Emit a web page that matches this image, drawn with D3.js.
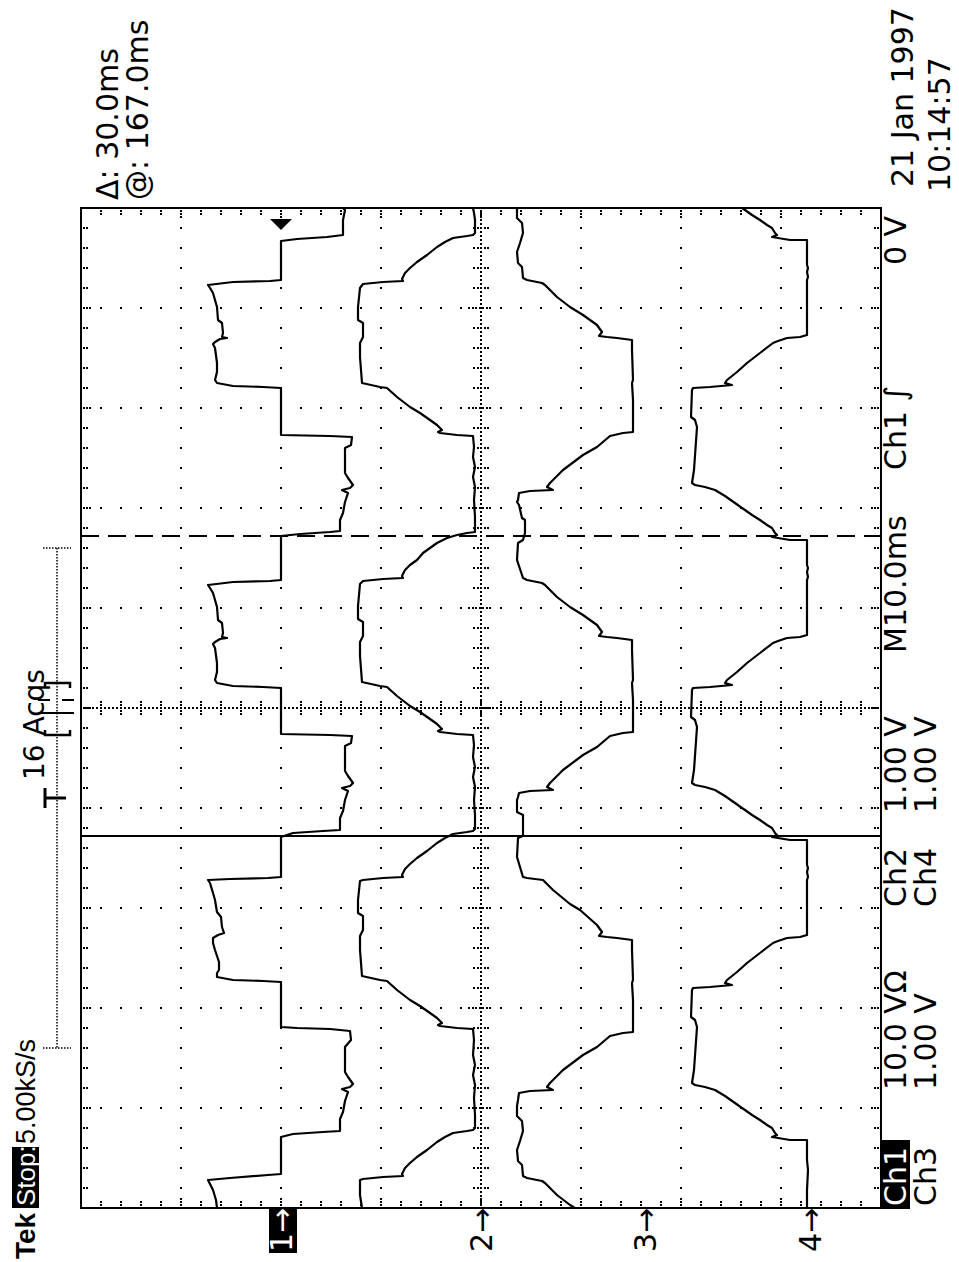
<!DOCTYPE html>
<html><head><meta charset="utf-8">
<script src="https://cdn.jsdelivr.net/npm/d3@7"></script>
<style>
body{margin:0;background:#fff}
svg{display:block}
text{font-family:'DejaVu Sans',sans-serif;font-size:30px;fill:#000}
</style>
</head><body>
<svg id="c" width="959" height="1262"></svg>
<script>
// ---- data: [time ms, volts] ----
const ch1 = [
[0.0,6.4],[0.8,6.5],[1.8,6.8],[2.8,7.3],[3.0,5.1],[3.3,1.3],[3.4,0],
[7.1,0],[7.4,-1.2],[7.6,-4.2],[7.7,-5.9],[8.9,-5.9],[9.6,-6.2],[10.7,-6.4],[11.6,-6.7],[11.9,-6.1],[12.1,-6.9],[12.4,-7.2],[13.1,-6.7],[13.6,-6.4],[16.1,-6.4],[16.8,-7.0],[17.7,-6.9],[17.9,-4.9],[18.0,-1.6],[18.1,0],
[22.6,0],[22.7,1.8],[22.8,4.8],[23.1,6.4],[23.5,6.4],[23.8,6.2],[24.6,6.2],[25.8,6.6],[26.5,6.8],[27.0,6.8],[27.3,6.3],[27.5,5.7],[28.1,5.9],[29.1,6.0],[29.6,6.4],[30.8,6.6],[31.5,6.8],[32.5,7.1],[32.8,7.3],[32.9,5.1],[33.0,1.3],[33.1,0],
[37.1,0],[37.5,-1.2],[37.7,-4.2],[37.8,-5.9],[39.0,-5.9],[39.7,-6.2],[40.8,-6.4],[41.7,-6.7],[42.0,-6.1],[42.2,-6.9],[42.5,-7.2],[43.2,-6.7],[43.7,-6.4],[46.2,-6.4],[46.5,-7.0],[47.2,-7.1],[47.3,-4.9],[47.4,0],
[52.0,0],[52.1,1.8],[52.2,4.8],[52.5,6.4],[52.8,6.6],[53.6,6.4],[54.5,6.4],[56.0,6.6],[56.4,6.8],[56.6,6.6],[56.9,6.1],[57.0,5.4],[57.1,5.9],[57.5,5.8],[58.5,5.9],[58.8,6.3],[60.1,6.4],[60.8,6.6],[61.5,6.8],[62.0,7.1],[62.3,7.3],[62.6,4.8],[62.7,1.1],[62.8,0],
[67.2,0],[67.4,-1.9],[67.6,-4.9],[67.7,-5.9],[68.8,-5.9],[69.5,-6.2],[70.6,-6.4],[71.5,-6.7],[71.8,-6.1],[72.0,-6.9],[72.3,-7.2],[73.0,-6.7],[73.5,-6.4],[76.0,-6.4],[76.3,-7.0],[77.1,-7.1],[77.2,-4.9],[77.3,0],
[82.0,0],[82.1,1.8],[82.2,4.8],[82.5,6.4],[82.8,6.6],[83.6,6.4],[84.5,6.4],[86.0,6.6],[86.4,6.8],[86.6,6.6],[86.9,6.1],[87.0,5.4],[87.1,5.9],[87.5,5.8],[88.5,5.9],[88.8,6.3],[90.1,6.4],[90.8,6.6],[91.5,6.8],[92.0,7.1],[92.3,7.3],[92.6,4.8],[92.7,1.1],[92.8,0],
[96.7,0],[96.9,-1.6],[97.1,-4.6],[97.3,-6.2],[98.8,-6.2],[99.8,-6.4],[100.0,-6.2]
];
const ch2 = [
[0.0,1.19],[1.3,1.21],[2.8,1.21],[2.9,1.18],[3.1,0.98],[3.2,0.78],[3.4,0.79],[4.0,0.76],[4.5,0.71],[5.1,0.64],[5.8,0.54],[6.6,0.44],[7.1,0.36],[7.5,0.28],[7.7,0.14],[7.8,0.08],[8.0,0.06],
[9.3,0.06],[11.0,0.07],[12.3,0.06],[13.3,0.08],[14.3,0.06],[15.3,0.08],[16.8,0.07],[17.9,0.08],
[18.0,0.24],[18.2,0.41],[18.3,0.43],[18.5,0.39],[19.0,0.44],[19.5,0.51],[20.2,0.61],[20.8,0.71],[21.8,0.84],[22.7,0.94],[22.8,1.01],[23.2,1.19],
[25.8,1.21],[27.2,1.21],[27.8,1.18],[29.2,1.18],[29.5,1.23],[30.8,1.23],[32.7,1.21],[32.8,1.18],
[33.0,0.98],[33.1,0.78],[33.3,0.79],[33.9,0.76],[34.4,0.71],[35.0,0.64],[35.7,0.54],[36.5,0.44],[37.0,0.36],[37.4,0.28],[37.6,0.14],[37.7,0.08],[37.9,0.06],
[39.3,0.06],[40.8,0.07],[42.1,0.06],[43.1,0.08],[44.1,0.06],[45.1,0.08],[46.3,0.07],[47.3,0.08],
[47.4,0.24],[47.6,0.41],[47.7,0.43],[47.9,0.39],[48.4,0.44],[48.9,0.51],[49.6,0.61],[50.2,0.71],[51.2,0.84],[52.1,0.94],[52.2,1.01],[52.6,1.19],
[55.2,1.21],[56.6,1.21],[57.2,1.18],[58.6,1.18],[58.9,1.23],[60.2,1.23],[62.4,1.21],[62.7,1.18],
[62.9,0.98],[63.0,0.78],[63.2,0.79],[63.8,0.76],[64.3,0.71],[64.8,0.64],[65.5,0.58],[66.5,0.44],[67.0,0.34],[67.3,0.24],[67.5,0.14],[67.6,0.06],
[69.1,0.06],[70.8,0.07],[72.1,0.06],[73.1,0.08],[74.1,0.06],[75.1,0.08],[76.1,0.07],[77.2,0.08],
[77.3,0.24],[77.5,0.41],[77.6,0.43],[77.8,0.39],[78.3,0.44],[78.8,0.51],[79.5,0.61],[80.1,0.71],[81.1,0.84],[82.0,0.94],[82.1,1.01],[82.5,1.19],
[85.1,1.21],[86.5,1.21],[87.1,1.18],[88.5,1.18],[88.8,1.23],[90.1,1.23],[92.0,1.21],[92.4,1.18],
[92.6,0.98],[92.7,0.78],[92.9,0.79],[93.5,0.76],[94.0,0.71],[94.6,0.64],[95.3,0.54],[96.1,0.44],[96.6,0.36],[97.0,0.28],[97.2,0.14],[97.3,0.08],[97.5,0.06],
[98.8,0.06],[99.5,0.07],[100.0,0.08]
];
const ch3 = [
[-1.5,0.48],[-0.5,0.62],[0.3,0.75],[1.3,0.88],[2.5,1.00],[2.7,1.03],[3.0,1.18],[3.2,1.22],
[4.3,1.23],[4.7,1.27],[5.8,1.28],[6.7,1.25],[7.7,1.22],[8.7,1.23],[9.2,1.28],[10.2,1.28],[10.8,1.27],[11.5,1.26],
[11.7,1.15],[11.8,0.92],[12.1,0.98],[12.5,0.95],[13.8,0.82],[15.3,0.62],[16.1,0.48],[17.2,0.35],[17.5,0.22],[17.6,0.12],
[20.8,0.12],[22.5,0.13],[22.8,0.12],[25.8,0.13],[26.8,0.13],
[27.0,0.28],[27.1,0.38],[27.2,0.46],[27.6,0.43],[28.3,0.48],[29.8,0.65],[30.4,0.75],[31.8,0.92],[32.8,1.02],[33.0,1.18],[33.1,1.22],
[35.1,1.28],[37.0,1.27],[37.2,1.22],[39.3,1.22],[39.6,1.28],[40.8,1.28],[41.1,1.27],[41.5,1.26],
[41.7,1.15],[41.8,0.92],[42.1,0.98],[42.5,0.95],[43.8,0.82],[45.3,0.62],[46.1,0.48],[47.2,0.35],[47.5,0.22],[47.6,0.12],
[50.8,0.12],[52.5,0.13],[52.8,0.12],[55.8,0.13],[56.8,0.13],
[57.0,0.28],[57.1,0.38],[57.2,0.46],[57.6,0.43],[58.3,0.48],[59.3,0.62],[60.1,0.75],[61.1,0.88],[62.3,1.00],[62.5,1.03],[62.8,1.18],[63.0,1.22],
[64.8,1.28],[66.5,1.27],[66.8,1.22],[67.5,1.20],[68.8,1.20],[69.0,1.23],[70.3,1.26],[70.6,1.28],[70.8,1.27],[71.5,1.26],
[71.7,1.15],[71.8,0.92],[72.1,0.98],[72.5,0.95],[73.8,0.82],[75.3,0.62],[76.1,0.48],[77.2,0.35],[77.5,0.22],[77.6,0.12],
[80.8,0.12],[82.5,0.13],[82.8,0.12],[85.8,0.13],[86.8,0.13],
[87.0,0.28],[87.1,0.38],[87.2,0.46],[87.6,0.43],[88.3,0.48],[89.3,0.62],[90.1,0.75],[91.1,0.88],[92.3,1.00],[92.5,1.03],[92.8,1.18],[93.0,1.22],
[94.1,1.23],[94.5,1.27],[95.6,1.28],[96.5,1.25],[97.5,1.22],[98.5,1.23],[99.0,1.28],[100.0,1.28]
];
const ch4 = [
[0.0,0.03],[1.8,0.03],[3.8,0.02],[4.8,0.03],[6.8,0.03],
[6.8,0.20],[7.1,0.38],[7.3,0.33],[7.5,0.35],[8.0,0.38],[8.3,0.43],[8.8,0.50],[9.3,0.58],[9.8,0.65],[10.0,0.68],[10.5,0.75],[11.2,0.85],[11.8,0.95],[12.1,1.05],[12.3,1.15],[12.5,1.18],
[13.8,1.16],[18.1,1.13],[18.8,1.15],[19.1,1.19],[21.8,1.18],[22.0,1.17],
[22.1,1.00],[22.3,0.78],[22.5,0.85],[22.8,0.83],[23.6,0.73],[24.5,0.63],[25.5,0.50],[26.5,0.37],[26.7,0.32],[27.0,0.23],[27.1,0.10],[27.3,0.03],
[32.8,0.03],[33.1,0.02],[33.6,0.03],[34.0,0.02],[34.3,0.03],[36.8,0.03],
[36.8,0.20],[37.1,0.38],[37.3,0.33],[37.5,0.35],[38.0,0.38],[38.3,0.43],[38.8,0.50],[39.3,0.58],[39.8,0.65],[40.0,0.68],[40.5,0.75],[41.2,0.85],[41.8,0.95],[42.1,1.05],[42.3,1.15],[42.5,1.18],
[43.8,1.16],[48.1,1.13],[48.8,1.15],[49.1,1.19],[51.8,1.18],[52.0,1.17],
[52.1,1.00],[52.3,0.78],[52.5,0.85],[52.8,0.83],[53.6,0.73],[54.5,0.63],[55.5,0.50],[56.5,0.37],[56.7,0.32],[57.0,0.23],[57.1,0.10],[57.3,0.03],
[62.8,0.03],[63.1,0.02],[63.6,0.03],[64.0,0.02],[64.3,0.03],[66.8,0.03],
[66.8,0.20],[67.1,0.38],[67.3,0.33],[67.5,0.35],[68.0,0.38],[68.3,0.43],[68.8,0.50],[69.3,0.58],[69.8,0.65],[70.0,0.68],[70.5,0.75],[71.2,0.85],[71.8,0.95],[72.1,1.05],[72.3,1.15],[72.5,1.18],
[73.8,1.16],[78.1,1.13],[78.8,1.15],[79.1,1.19],[81.8,1.18],[82.0,1.17],
[82.1,1.00],[82.3,0.78],[82.5,0.85],[82.8,0.83],[83.6,0.73],[84.5,0.63],[85.5,0.50],[86.5,0.37],[86.7,0.32],[87.0,0.23],[87.1,0.10],[87.3,0.03],
[92.8,0.03],[93.1,0.02],[93.6,0.03],[94.0,0.02],[94.3,0.03],[96.8,0.03],
[96.8,0.20],[97.1,0.38],[97.3,0.33],[97.5,0.35],[98.0,0.38],[98.3,0.43],[98.8,0.50],[99.3,0.58],[99.8,0.65],[100.0,0.68]
];
// scope settings
const channelNames = ["Ch1","Ch2","Ch3","Ch4"];
const voltsPerDiv = [10, 1, 1, 1];
const groundDiv = [2.0, 0.0, -1.64, -3.29];
const cursorTimes = [37.2, 67.2];
const triggerLevel = 0; // V on Ch1

// ---- layout ----
const svg = d3.select("#c");
const L = 81, R = 881, T = 208, B = 1208;
const time = d3.scaleLinear().domain([0, 100]).range([B, T]);
const divs = d3.scaleLinear().domain([4, -4]).range([L, R]);

const grid = svg.append("g").attr("shape-rendering", "crispEdges");
function dot(x, y, w = 2, h = 2) {
  grid.append("rect").attr("x", Math.round(x - w / 2)).attr("y", Math.round(y - h / 2)).attr("width", w).attr("height", h).attr("fill", "#000");
}
// major dotted grid
d3.range(-3, 4).filter(d => d !== 0).forEach(d => {
  d3.range(0, 100.01, 2).forEach(t => dot(divs(d), time(t)));
});
d3.range(10, 91, 10).filter(t => t !== 50).forEach(t => {
  d3.range(-4, 4.01, 0.2).forEach(d => dot(divs(d), time(t)));
});
// centre lines (dense dots) and their ticks
d3.range(0, 100.01, 0.4).forEach(t => dot(divs(0), time(t), 2, 1.5));
d3.range(-4, 4.001, 0.04).forEach(d => dot(divs(d), time(50), 1.5, 2));
d3.range(0, 100.01, 2).forEach(t => {
  const big = Math.abs(t % 10) < 0.01;
  d3.range(-(big ? 12 : 7), (big ? 12 : 7) + 0.1, 3.5).forEach(o => dot(divs(0) + o, time(t), 2, 2));
});
d3.range(-4, 4.001, 0.2).forEach(d => {
  d3.range(-6, 6.1, 3).forEach(o => dot(divs(d), time(50) + o, 2, 2));
});
// border ticks
d3.range(-3.8, 3.81, 0.2).forEach(d => {
  const big = Math.abs(Math.round(d) - d) < 0.01;
  const n = big ? [3, 6, 9] : [3, 6];
  n.forEach(o => { dot(divs(d), T + o); dot(divs(d), B - o); });
});
d3.range(2, 99, 2).forEach(t => {
  const big = Math.abs(t % 10) < 0.01;
  const n = big ? [3, 6, 9] : [3, 6];
  n.forEach(o => { dot(L + o, time(t)); dot(R - o, time(t)); });
});
// border
svg.append("rect").attr("x", L).attr("y", T).attr("width", R - L).attr("height", B - T)
  .attr("fill", "none").attr("stroke", "#000").attr("stroke-width", 2).attr("shape-rendering", "crispEdges");

// clip
svg.append("clipPath").attr("id", "plot").append("rect").attr("x", L).attr("y", T).attr("width", R - L).attr("height", B - T);

// cursors
svg.append("line").attr("x1", L).attr("x2", R).attr("y1", time(cursorTimes[0])).attr("y2", time(cursorTimes[0]))
  .attr("stroke", "#000").attr("stroke-width", 2).attr("shape-rendering", "crispEdges");
svg.append("line").attr("x1", L).attr("x2", R).attr("y1", time(cursorTimes[1])).attr("y2", time(cursorTimes[1]))
  .attr("stroke", "#000").attr("stroke-width", 2).attr("stroke-dasharray", "18,9").attr("shape-rendering", "crispEdges");

// traces
const traces = [ch1, ch2, ch3, ch4];
const tg = svg.append("g").attr("clip-path", "url(#plot)");
traces.forEach((data, i) => {
  const line = d3.line()
    .x(d => divs(groundDiv[i] + d[1] / voltsPerDiv[i]))
    .y(d => time(d[0]));
  tg.append("path").attr("d", line(data)).attr("fill", "none")
    .attr("stroke", "#000").attr("stroke-width", 2.2).attr("stroke-linejoin", "round");
});

// trigger level marker
const tx = divs(groundDiv[0] + triggerLevel / voltsPerDiv[0]);
svg.append("path").attr("d", `M${tx - 11},${T + 11} L${tx + 11},${T + 11} L${tx},${T + 22} Z`).attr("fill", "#000");

// rotated text helper
function rtext(x, y, s, opts = {}) {
  const t = svg.append("text").attr("transform", `translate(${x},${y}) rotate(-90)`).text(s);
  if (opts.size) t.style("font-size", opts.size + "px");
  if (opts.fill) t.style("fill", opts.fill);
  if (opts.weight) t.style("font-weight", opts.weight);
  if (opts.family) t.style("font-family", opts.family);
  return t;
}

// ground markers
const labels = ["1\u2192", "2\u2192", "3\u2192", "4\u2192"];
labels.forEach((s, i) => {
  const gx = divs(groundDiv[i]);
  if (i === 0) {
    svg.append("rect").attr("x", gx - 12).attr("y", B + 1).attr("width", 28).attr("height", 44).attr("fill", "#000");
    rtext(gx + 11, B + 44, s, { fill: "#fff" });
  } else rtext(gx + 11, B + 44, s);
});

// right column
svg.append("rect").attr("x", 882).attr("y", 1140).attr("width", 28).attr("height", 69).attr("fill", "#000");
rtext(906, 1206, "Ch1", { fill: "#fff" });
rtext(906, 1090, "10.0 V\u03A9");
rtext(906, 907, "Ch2");
rtext(906, 813, "1.00 V");
rtext(906, 653, "M10.0ms");
rtext(906, 470, "Ch1 \u222B");
rtext(906, 265, "0 V");
rtext(936, 1206, "Ch3");
rtext(936, 1090, "1.00 V");
rtext(936, 907, "Ch4");
rtext(936, 813, "1.00 V");
// date
rtext(913, 187, "21 Jan 1997");
rtext(950, 192, "10:14:57");

// bottom-left status
const sans = "'Liberation Sans', Arial, sans-serif";
rtext(35, 1259, "Tek", { size: 28, weight: "bold", family: sans });
svg.append("rect").attr("x", 12).attr("y", 1147).attr("width", 27).attr("height", 61).attr("fill", "#000");
rtext(35, 1206, "Stop:", { fill: "#fff", size: 26, family: sans });
rtext(35, 1144, "5.00kS/s", { size: 27, family: sans });
rtext(44, 780, "16 Acqs", { size: 28 });

// cursor readouts
rtext(118, 200, "\u0394: 30.0ms");
rtext(148, 200, "@: 167.0ms");

// record indicator
const rec = svg.append("g").attr("stroke", "#000").attr("fill", "none");
rec.append("line").attr("x1", 57).attr("x2", 57).attr("y1", 548).attr("y2", 1048).attr("stroke-width", 1.5).attr("stroke-dasharray", "1.5,1.5");
rec.append("line").attr("x1", 43).attr("x2", 71).attr("y1", 548).attr("y2", 548).attr("stroke-width", 1.5).attr("stroke-dasharray", "1.5,1.5");
rec.append("line").attr("x1", 43).attr("x2", 71).attr("y1", 1048).attr("y2", 1048).attr("stroke-width", 1.5).attr("stroke-dasharray", "1.5,1.5");
rec.append("path").attr("d", "M45,688 L45,683 L70,683 L70,688").attr("stroke-width", 2.5);
rec.append("path").attr("d", "M45,730 L45,735 L70,735 L70,730").attr("stroke-width", 2.5);
rec.append("line").attr("x1", 38).attr("x2", 50).attr("y1", 700).attr("y2", 700).attr("stroke-width", 2);
rec.append("line").attr("x1", 62).attr("x2", 74).attr("y1", 700).attr("y2", 700).attr("stroke-width", 2);
rec.append("line").attr("x1", 38).attr("x2", 74).attr("y1", 713).attr("y2", 713).attr("stroke-width", 2);
rec.append("line").attr("x1", 45).attr("x2", 66).attr("y1", 798).attr("y2", 798).attr("stroke-width", 3);
rec.append("line").attr("x1", 45).attr("x2", 45).attr("y1", 788).attr("y2", 808).attr("stroke-width", 3);
</script>
</body></html>
